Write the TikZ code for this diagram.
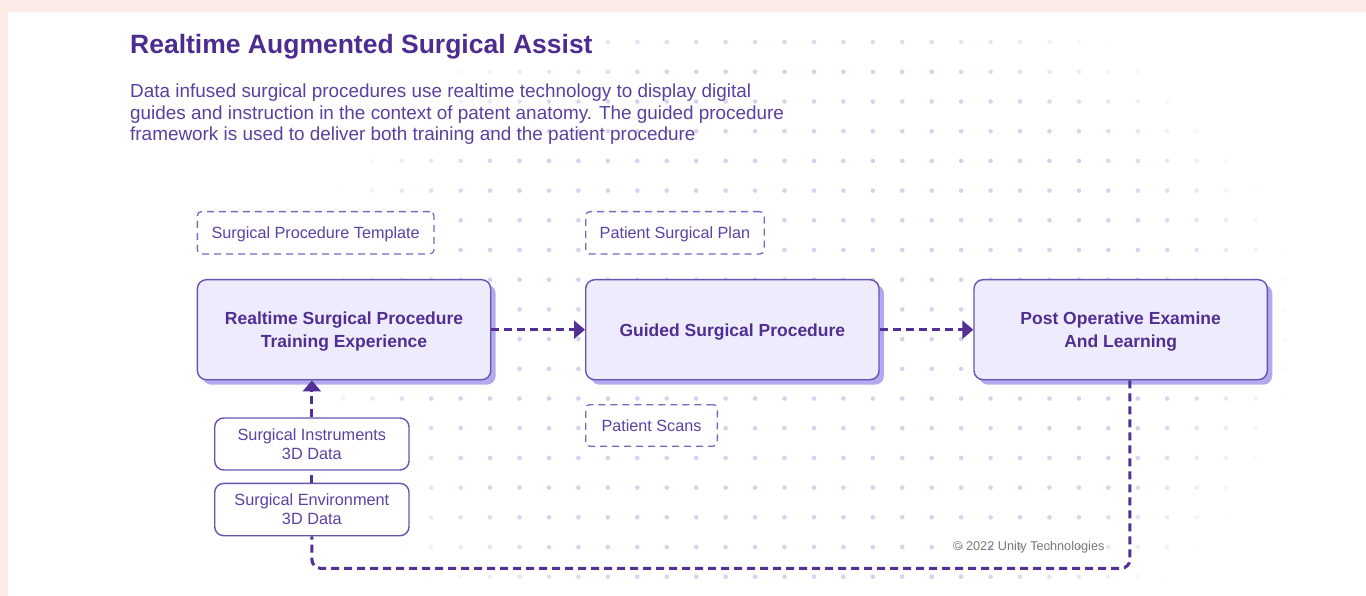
\documentclass[tikz,border=0pt]{standalone}
\usepackage{fontspec}
\setmainfont{Liberation Sans}
\usetikzlibrary{arrows.meta,shadows,calc}
\definecolor{pinkbg}{RGB}{251,236,231}
\definecolor{boxfill}{RGB}{238,236,252}
\definecolor{boxborder}{RGB}{104,84,176}
\definecolor{shadowc}{RGB}{178,170,238}
\definecolor{titlec}{RGB}{78,43,143}
\definecolor{desctext}{RGB}{92,64,160}
\definecolor{boxtext}{RGB}{80,46,146}
\definecolor{labeltext}{RGB}{92,66,162}
\definecolor{arrowc}{RGB}{82,48,150}
\definecolor{dashc}{RGB}{122,104,190}
\definecolor{dotc}{RGB}{214,210,236}
\definecolor{copyc}{RGB}{120,120,120}
\begin{document}
\begin{tikzpicture}[x=1pt,y=-1pt,
  mainbox/.style={draw=boxborder, line width=1.4pt, fill=boxfill, rounded corners=9pt,
    drop shadow={shadow xshift=5pt,shadow yshift=-5pt,fill=shadowc,opacity=1},
    minimum width=293.3pt, minimum height=100pt, inner sep=0pt, align=center,
    text depth=0pt,
    text=boxtext, font=\bfseries\fontsize{17.5}{23}\selectfont, anchor=north west},
  dashbox/.style={draw=dashc, line width=1.3pt, dash pattern=on 7pt off 5pt, fill=white,
    rounded corners=4pt, minimum height=42.3pt, inner sep=0pt, text=labeltext,
    font=\fontsize{16.2}{19}\selectfont, anchor=north west},
  databox/.style={draw=boxborder, line width=1.4pt, fill=white, rounded corners=9pt,
    minimum width=194.3pt, minimum height=52pt, inner sep=0pt, align=center,
    text=labeltext, font=\fontsize{16.3}{19}\selectfont, anchor=north west},
  desc/.style={anchor=base west, inner sep=0pt, text=desctext, font=\fontsize{18.9}{21.7}\selectfont},
  conn/.style={draw=arrowc, line width=3pt, dash pattern=on 8pt off 5pt},
  arrowtip/.style={-{Triangle[length=11pt,width=18pt]}}
]
\useasboundingbox (0,0) rectangle (1366,596);
\fill[pinkbg] (0,0) rectangle (1366,596);
\fill[white] (8,12) rectangle (1366,596);
% dot field
\foreach \k in {-21,...,13}{
  \foreach \j in {0,...,18}{
    \pgfmathsetmacro{\dotx}{931.7+29.44*\k}
    \pgfmathsetmacro{\doty}{576.7-29.7*\j}
    \pgfmathsetmacro{\dotop}{min(1,max(0,2.2*(1-((\dotx-800)/500)^2-((\doty-330)/370)^2)))}
    \fill[dotc, opacity=\dotop] (\dotx,\doty) circle[radius=2.3pt];
  }
}
% title and description
\node[anchor=base west, inner sep=0pt, text=titlec, font=\bfseries\fontsize{26.5}{30}\selectfont] (title) at (130,53.2) {Realtime Augmented Surgical Assist};
\node[desc] (desc1) at (130,97.4) {Data infused surgical procedures use realtime technology to display digital};
\node[desc] (desc2) at (130,119.1) {guides and instruction in the context of patent anatomy. The guided procedure};
\node[desc] (desc3) at (130,140.8) {framework is used to deliver both training and the patient procedure};
% dashed labels
\node[dashbox, minimum width=236.6pt, text depth=0pt] (tmpl) at (196.7,211) {Surgical Procedure Template};
\node[dashbox, minimum width=178.5pt, text depth=0pt] (plan) at (585,211) {Patient Surgical Plan};
\node[dashbox, minimum width=131.7pt, minimum height=41.5pt] (scans) at (585,404) {Patient Scans};
% main boxes
\node[mainbox] (train) at (196.7,279) {Realtime Surgical Procedure\\Training Experience};
\node[mainbox] (guided) at (585,279) {Guided Surgical Procedure};
\node[mainbox] (post) at (973.3,279) {Post Operative Examine\\And Learning};
% data boxes
\node[databox] (inst) at (214,417.3) {Surgical Instruments\\3D Data};
\node[databox, minimum height=52.3pt] (env) at (214,482.7) {Surgical Environment\\3D Data};
% copyright
\node[anchor=west, inner sep=0pt, text=copyc, font=\fontsize{12.7}{14}\selectfont] (copy) at (953,547) {© 2022 Unity Technologies};
% connectors
\draw[conn, arrowtip] (train.east) -- (guided.west);
\draw[conn, arrowtip] (guided.east) -- (post.west);
\draw[conn, rounded corners=9pt] ([xshift=9.3pt]post.south) |- ([yshift=-32pt]env.south) -- (env.south);
\draw[conn] (env.north) -- (inst.south);
\draw[conn, arrowtip] (inst.north) -- (inst.north |- train.south);
\end{tikzpicture}
\end{document}
